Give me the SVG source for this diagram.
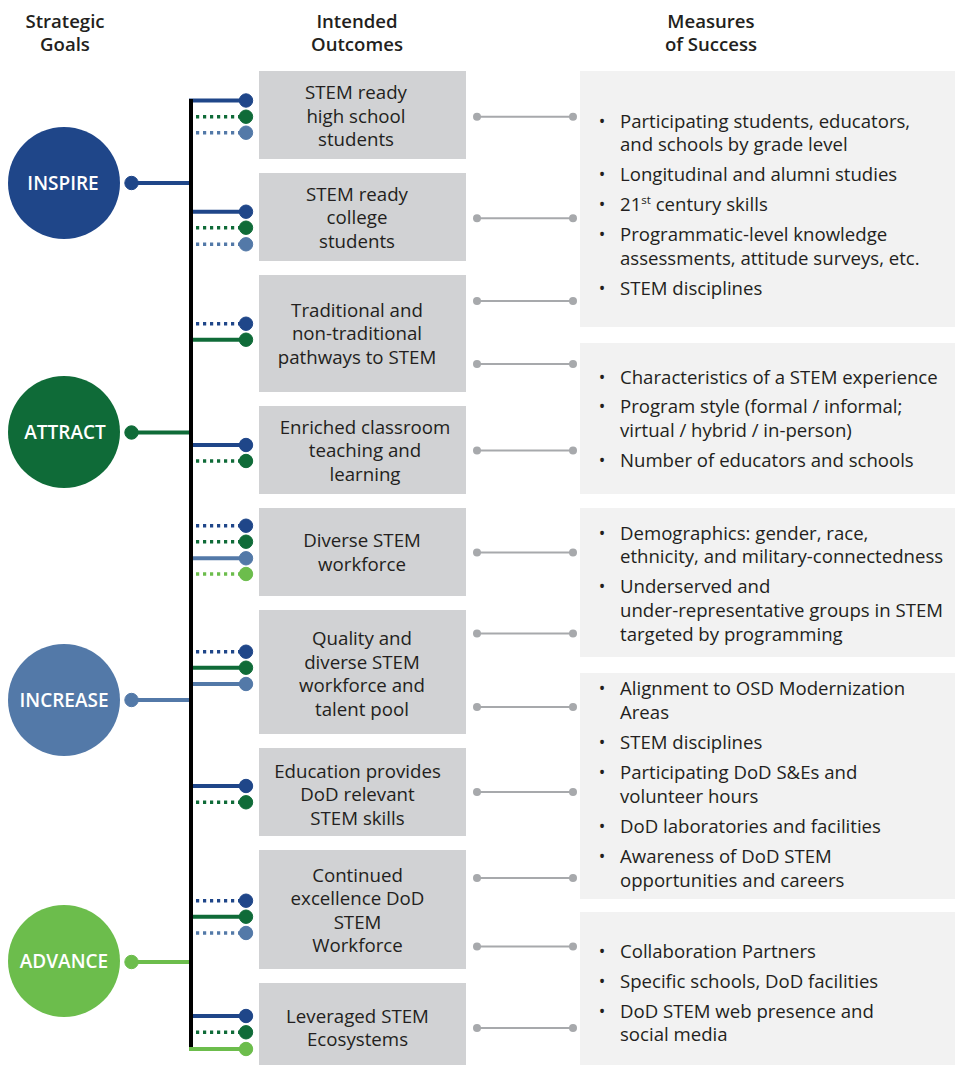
<svg xmlns="http://www.w3.org/2000/svg" width="955" height="1065" viewBox="0 0 955 1065">
<style>
text{font-family:"Open Sans","Noto Sans",sans-serif;fill:#231f20}
.hd{font-size:18.6px;font-weight:600;text-anchor:middle}
.gl{font-size:19px;font-weight:600;fill:#fff;text-anchor:middle}
.ob{fill:#d1d2d4}
.ot{font-size:18.7px;text-anchor:middle}
.mb{fill:#f2f2f2}
.mt{font-size:18.6px}
.bu{font-size:17.5px;text-anchor:middle}
.db{stroke:#1f4689;fill:#1f4689}
.dg{stroke:#0f6b38;fill:#0f6b38}
.sb{stroke:#5379a8;fill:#5379a8}
.lg{stroke:#6cbd4c;fill:#6cbd4c}
line.s{stroke-width:4}
line.d{stroke-width:3.5;stroke-dasharray:3.2 3.8}
.gc line{stroke:#a7a9ac;stroke-width:2}
.gc circle{fill:#a7a9ac}
</style>

<g id="headers">
<text class="hd" x="65" y="28">Strategic</text>
<text class="hd" x="65" y="51">Goals</text>
<text class="hd" x="357" y="28">Intended</text>
<text class="hd" x="357" y="51">Outcomes</text>
<text class="hd" x="711" y="28">Measures</text>
<text class="hd" x="711" y="51">of Success</text>
</g>

<g id="goal-inspire"><circle cx="64" cy="183" r="56" fill="#1f4689"/><text class="gl" x="63" y="190">INSPIRE</text></g>
<g id="goal-attract"><circle cx="64" cy="432" r="56" fill="#0f6b38"/><text class="gl" x="65" y="439">ATTRACT</text></g>
<g id="goal-increase"><circle cx="64" cy="700" r="56" fill="#5379a8"/><text class="gl" x="64" y="707">INCREASE</text></g>
<g id="goal-advance"><circle cx="64" cy="961" r="56" fill="#6cbd4c"/><text class="gl" x="64" y="968">ADVANCE</text></g>

<g id="outcome-1"><rect class="ob" x="259" y="71" width="207" height="88"/><text class="ot" x="356" y="99">STEM ready</text><text class="ot" x="356" y="122.5">high school</text><text class="ot" x="356" y="146">students</text></g>
<g id="outcome-2"><rect class="ob" x="259" y="173" width="207" height="88"/><text class="ot" x="357" y="200.5">STEM ready</text><text class="ot" x="357" y="224">college</text><text class="ot" x="357" y="247.5">students</text></g>
<g id="outcome-3"><rect class="ob" x="259" y="275" width="207" height="117"/><text class="ot" x="357" y="316.5">Traditional and</text><text class="ot" x="357" y="340">non-traditional</text><text class="ot" x="357" y="363.5">pathways to STEM</text></g>
<g id="outcome-4"><rect class="ob" x="259" y="406" width="207" height="88"/><text class="ot" x="365" y="433.5">Enriched classroom</text><text class="ot" x="365" y="457">teaching and</text><text class="ot" x="365" y="480.5">learning</text></g>
<g id="outcome-5"><rect class="ob" x="259" y="508" width="207" height="88"/><text class="ot" x="362" y="547">Diverse STEM</text><text class="ot" x="362" y="570.5">workforce</text></g>
<g id="outcome-6"><rect class="ob" x="259" y="610" width="207" height="124"/><text class="ot" x="362" y="645">Quality and</text><text class="ot" x="362" y="668.5">diverse STEM</text><text class="ot" x="362" y="692">workforce and</text><text class="ot" x="362" y="715.5">talent pool</text></g>
<g id="outcome-7"><rect class="ob" x="259" y="748" width="207" height="88"/><text class="ot" x="357.5" y="777.5">Education provides</text><text class="ot" x="357.5" y="801">DoD relevant</text><text class="ot" x="357.5" y="824.5">STEM skills</text></g>
<g id="outcome-8"><rect class="ob" x="259" y="850" width="207" height="119"/><text class="ot" x="357.5" y="881.5">Continued</text><text class="ot" x="357.5" y="905">excellence DoD</text><text class="ot" x="357.5" y="928.5">STEM</text><text class="ot" x="357.5" y="952">Workforce</text></g>
<g id="outcome-9"><rect class="ob" x="259" y="983" width="207" height="82"/><text class="ot" x="357.5" y="1022.5">Leveraged STEM</text><text class="ot" x="357.5" y="1046">Ecosystems</text></g>

<g id="measures-1"><rect class="mb" x="580" y="71" width="375" height="256"/>
<text class="bu" x="602" y="127.5">•</text><text class="mt" x="620" y="127.5">Participating students, educators,</text><text class="mt" x="620" y="151">and schools by grade level</text>
<text class="bu" x="602" y="181">•</text><text class="mt" x="620" y="181">Longitudinal and alumni studies</text>
<text class="bu" x="602" y="211">•</text><text class="mt" x="620" y="211">21<tspan font-size="11.5" dy="-7">st</tspan><tspan dy="7"> century skills</tspan></text>
<text class="bu" x="602" y="241">•</text><text class="mt" x="620" y="241">Programmatic-level knowledge</text><text class="mt" x="620" y="265">assessments, attitude surveys, etc.</text>
<text class="bu" x="602" y="294.5">•</text><text class="mt" x="620" y="294.5">STEM disciplines</text>
</g>
<g id="measures-2"><rect class="mb" x="580" y="343" width="375" height="151"/>
<text class="bu" x="602" y="383.5">•</text><text class="mt" x="620" y="383.5">Characteristics of a STEM experience</text>
<text class="bu" x="602" y="413">•</text><text class="mt" x="620" y="413">Program style (formal / informal;</text><text class="mt" x="620" y="436.5">virtual / hybrid / in-person)</text>
<text class="bu" x="602" y="466.5">•</text><text class="mt" x="620" y="466.5">Number of educators and schools</text>
</g>
<g id="measures-3"><rect class="mb" x="580" y="508" width="375" height="149"/>
<text class="bu" x="602" y="540">•</text><text class="mt" x="620" y="540">Demographics: gender, race,</text><text class="mt" x="620" y="563">ethnicity, and military-connectedness</text>
<text class="bu" x="602" y="593">•</text><text class="mt" x="620" y="593">Underserved and</text><text class="mt" x="620" y="617">under-representative groups in STEM</text><text class="mt" x="620" y="641">targeted by programming</text>
</g>
<g id="measures-4"><rect class="mb" x="580" y="673" width="375" height="226"/>
<text class="bu" x="602" y="695">•</text><text class="mt" x="620" y="695">Alignment to OSD Modernization</text><text class="mt" x="620" y="719">Areas</text>
<text class="bu" x="602" y="749">•</text><text class="mt" x="620" y="749">STEM disciplines</text>
<text class="bu" x="602" y="779">•</text><text class="mt" x="620" y="779">Participating DoD S&amp;Es and</text><text class="mt" x="620" y="803">volunteer hours</text>
<text class="bu" x="602" y="833">•</text><text class="mt" x="620" y="833">DoD laboratories and facilities</text>
<text class="bu" x="602" y="863">•</text><text class="mt" x="620" y="863">Awareness of DoD STEM</text><text class="mt" x="620" y="887">opportunities and careers</text>
</g>
<g id="measures-5"><rect class="mb" x="580" y="912" width="375" height="153"/>
<text class="bu" x="602" y="958">•</text><text class="mt" x="620" y="958">Collaboration Partners</text>
<text class="bu" x="602" y="988">•</text><text class="mt" x="620" y="988">Specific schools, DoD facilities</text>
<text class="bu" x="602" y="1018">•</text><text class="mt" x="620" y="1018">DoD STEM web presence and</text><text class="mt" x="620" y="1041">social media</text>
</g>

<g id="connectors">
<line class="db s" x1="131" y1="183" x2="191" y2="183"/><circle class="db" cx="131.5" cy="183" r="6.7"/>
<line class="dg s" x1="131" y1="432.5" x2="191" y2="432.5"/><circle class="dg" cx="131.5" cy="432.5" r="6.7"/>
<line class="sb s" x1="131" y1="700" x2="191" y2="700"/><circle class="sb" cx="131.5" cy="700" r="6.7"/>
<line class="lg s" x1="131" y1="962" x2="191" y2="962"/><circle class="lg" cx="131.5" cy="962" r="6.7"/>
<line class="db s" x1="189" y1="100.5" x2="246" y2="100.5"/><circle class="db" cx="246" cy="100.5" r="6.7"/>
<line class="dg d" x1="189" y1="116.7" x2="246" y2="116.7"/><circle class="dg" cx="246" cy="116.7" r="6.7"/>
<line class="sb d" x1="189" y1="132.7" x2="246" y2="132.7"/><circle class="sb" cx="246" cy="132.7" r="6.7"/>
<line class="db s" x1="189" y1="211.7" x2="246" y2="211.7"/><circle class="db" cx="246" cy="211.7" r="6.7"/>
<line class="dg d" x1="189" y1="227.7" x2="246" y2="227.7"/><circle class="dg" cx="246" cy="227.7" r="6.7"/>
<line class="sb d" x1="189" y1="244.3" x2="246" y2="244.3"/><circle class="sb" cx="246" cy="244.3" r="6.7"/>
<line class="db d" x1="189" y1="323.7" x2="246" y2="323.7"/><circle class="db" cx="246" cy="323.7" r="6.7"/>
<line class="dg s" x1="189" y1="339.7" x2="246" y2="339.7"/><circle class="dg" cx="246" cy="339.7" r="6.7"/>
<line class="db s" x1="189" y1="445" x2="246" y2="445"/><circle class="db" cx="246" cy="445" r="6.7"/>
<line class="dg d" x1="189" y1="461" x2="246" y2="461"/><circle class="dg" cx="246" cy="461" r="6.7"/>
<line class="db d" x1="189" y1="525.7" x2="246" y2="525.7"/><circle class="db" cx="246" cy="525.7" r="6.7"/>
<line class="dg d" x1="189" y1="541.7" x2="246" y2="541.7"/><circle class="dg" cx="246" cy="541.7" r="6.7"/>
<line class="sb s" x1="189" y1="558.3" x2="246" y2="558.3"/><circle class="sb" cx="246" cy="558.3" r="6.7"/>
<line class="lg d" x1="189" y1="574" x2="246" y2="574"/><circle class="lg" cx="246" cy="574" r="6.7"/>
<line class="db d" x1="189" y1="651.7" x2="246" y2="651.7"/><circle class="db" cx="246" cy="651.7" r="6.7"/>
<line class="dg s" x1="189" y1="667.7" x2="246" y2="667.7"/><circle class="dg" cx="246" cy="667.7" r="6.7"/>
<line class="sb s" x1="189" y1="684" x2="246" y2="684"/><circle class="sb" cx="246" cy="684" r="6.7"/>
<line class="db s" x1="189" y1="786" x2="246" y2="786"/><circle class="db" cx="246" cy="786" r="6.7"/>
<line class="dg d" x1="189" y1="802.3" x2="246" y2="802.3"/><circle class="dg" cx="246" cy="802.3" r="6.7"/>
<line class="db d" x1="189" y1="900.7" x2="246" y2="900.7"/><circle class="db" cx="246" cy="900.7" r="6.7"/>
<line class="dg s" x1="189" y1="916.7" x2="246" y2="916.7"/><circle class="dg" cx="246" cy="916.7" r="6.7"/>
<line class="sb d" x1="189" y1="933" x2="246" y2="933"/><circle class="sb" cx="246" cy="933" r="6.7"/>
<line class="db s" x1="189" y1="1016" x2="246" y2="1016"/><circle class="db" cx="246" cy="1016" r="6.7"/>
<line class="dg d" x1="189" y1="1032.3" x2="246" y2="1032.3"/><circle class="dg" cx="246" cy="1032.3" r="6.7"/>
<line class="lg s" x1="189" y1="1049" x2="246" y2="1049"/><circle class="lg" cx="246" cy="1049" r="6.7"/>
<line x1="191" y1="99" x2="191" y2="1047" stroke="#000" stroke-width="4"/>
<g class="gc">
<line x1="477" y1="116.7" x2="573" y2="116.7"/><circle cx="477" cy="116.7" r="4"/><circle cx="573" cy="116.7" r="4"/>
<line x1="477" y1="218.3" x2="573" y2="218.3"/><circle cx="477" cy="218.3" r="4"/><circle cx="573" cy="218.3" r="4"/>
<line x1="477" y1="301" x2="573" y2="301"/><circle cx="477" cy="301" r="4"/><circle cx="573" cy="301" r="4"/>
<line x1="477" y1="364" x2="573" y2="364"/><circle cx="477" cy="364" r="4"/><circle cx="573" cy="364" r="4"/>
<line x1="477" y1="450.5" x2="573" y2="450.5"/><circle cx="477" cy="450.5" r="4"/><circle cx="573" cy="450.5" r="4"/>
<line x1="477" y1="552.5" x2="573" y2="552.5"/><circle cx="477" cy="552.5" r="4"/><circle cx="573" cy="552.5" r="4"/>
<line x1="477" y1="633.5" x2="573" y2="633.5"/><circle cx="477" cy="633.5" r="4"/><circle cx="573" cy="633.5" r="4"/>
<line x1="477" y1="707" x2="573" y2="707"/><circle cx="477" cy="707" r="4"/><circle cx="573" cy="707" r="4"/>
<line x1="477" y1="792" x2="573" y2="792"/><circle cx="477" cy="792" r="4"/><circle cx="573" cy="792" r="4"/>
<line x1="477" y1="878" x2="573" y2="878"/><circle cx="477" cy="878" r="4"/><circle cx="573" cy="878" r="4"/>
<line x1="477" y1="946.5" x2="573" y2="946.5"/><circle cx="477" cy="946.5" r="4"/><circle cx="573" cy="946.5" r="4"/>
<line x1="477" y1="1028" x2="573" y2="1028"/><circle cx="477" cy="1028" r="4"/><circle cx="573" cy="1028" r="4"/>
</g>
</g>
</svg>
